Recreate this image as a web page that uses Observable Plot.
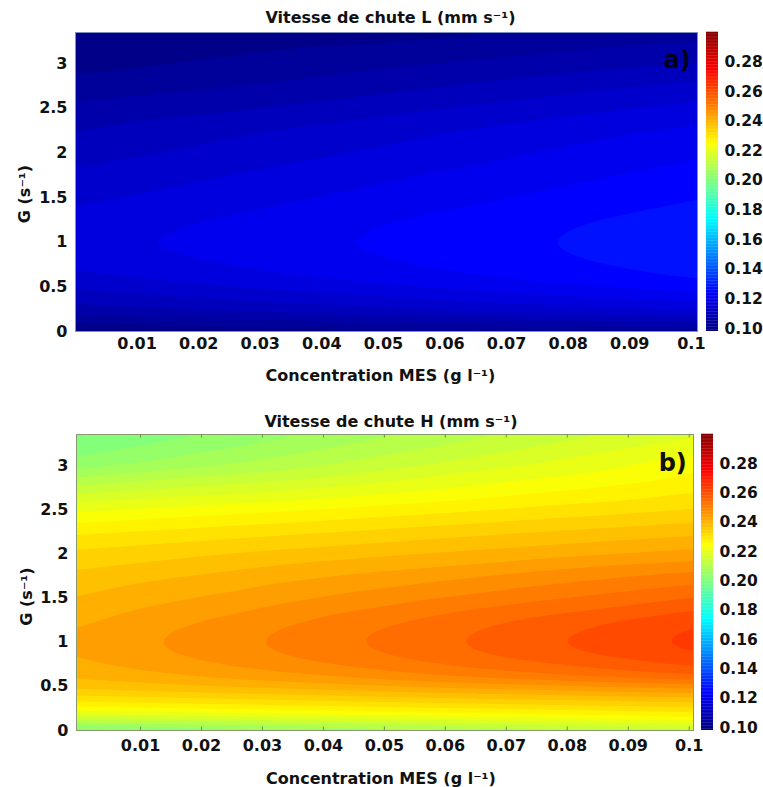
<!DOCTYPE html>
<html>
<head>
<meta charset="utf-8">
<script src="https://cdn.jsdelivr.net/npm/d3@7"></script>
<script src="https://cdn.jsdelivr.net/npm/@observablehq/plot@0.6"></script>
<style>
html,body{margin:0;padding:0;background:#fff;}
#root{position:relative;width:763px;height:787px;overflow:hidden;}
#root>svg{position:absolute;display:block;background:transparent;}
</style>
</head>
<body>
<div id="root"></div>
<script>
const concentration = [-0.001, 0.025, 0.05, 0.075, 0.101];
const shear = [3.35, 3, 2.75, 2.5, 2.25, 2, 1.75, 1.5, 1.25, 1.125, 1, 0.875, 0.75, 0.625, 0.5, 0.375, 0.25, 0.125, 0];
const speedL = [
  [.100,.101,.102,.1035,.105],
  [.102,.104,.106,.108,.1103],
  [.1045,.1065,.1088,.1115,.1143],
  [.1075,.1095,.1123,.1151,.1178],
  [.1098,.1126,.1153,.1181,.1208],
  [.1118,.1146,.1173,.1201,.1228],
  [.114,.1167,.1194,.122,.1247],
  [.1158,.1185,.1212,.1238,.1265],
  [.1178,.1204,.1231,.1257,.1283],
  [.1183,.1209,.1236,.1262,.1288],
  [.1187,.1213,.1239,.1264,.129],
  [.1183,.1209,.1236,.1262,.1288],
  [.1173,.1201,.1228,.1256,.1283],
  [.1158,.1187,.1216,.1244,.1273],
  [.1138,.1166,.1195,.1223,.1251],
  [.1113,.1138,.1163,.1188,.1213],
  [.1088,.1109,.1131,.1152,.1173],
  [.1043,.1061,.1078,.1096,.1113],
  [.100,.101,.1015,.1025,.1035]
];
const speedH = [
  [.199,.2041,.2093,.2144,.2195],
  [.205,.2101,.2153,.2204,.2255],
  [.214,.2178,.2215,.2253,.229],
  [.2225,.2253,.228,.2308,.2335],
  [.2292,.2317,.2341,.2366,.239],
  [.2342,.2368,.2394,.2419,.2445],
  [.2375,.241,.2444,.2479,.2513],
  [.2401,.2443,.2485,.2526,.2568],
  [.2425,.2475,.2525,.2574,.2624],
  [.2435,.2486,.2537,.2587,.2638],
  [.2439,.249,.2541,.2592,.2643],
  [.2436,.2486,.2535,.2585,.2634],
  [.2425,.2471,.2517,.2562,.2608],
  [.2408,.2448,.2488,.2528,.2568],
  [.238,.2406,.2433,.2459,.2485],
  [.2325,.2344,.2363,.2381,.24],
  [.226,.2276,.2293,.2309,.2325],
  [.215,.2176,.2203,.2229,.2255],
  [.198,.2018,.2055,.2093,.213]
];
const xTicks = [0.01,0.02,0.03,0.04,0.05,0.06,0.07,0.08,0.09,0.1];
const yTicks = [0,0.5,1,1.5,2,2.5,3];
const barTicks = [0.10,0.12,0.14,0.16,0.18,0.20,0.22,0.24,0.26,0.28];
const jet = ["#00007f","#0000ff","#007fff","#00ffff","#7fff7f","#ffff00","#ff7f00","#ff0000","#7f0000"];
const colorDomain = d3.range(jet.length).map(i => 0.098 + i * 0.202 / (jet.length - 1));
const levels = d3.range(-1, 61).map(k => 0.1 + k / 300);
const barSteps = d3.range(0.098, 0.3, 0.001);
const font = "'DejaVu Sans', sans-serif";

function rows(matrix) {
  const out = [];
  matrix.forEach((r, j) => r.forEach((z, i) => out.push({x: concentration[i], y: shear[j], z})));
  return out;
}
const color = {type: "linear", domain: colorDomain, range: jet, clamp: true, interpolate: "rgb"};

function panel(o) {
  const p = Plot.plot({
    width: 763, height: o.height,
    marginLeft: o.left, marginRight: o.right, marginTop: o.top, marginBottom: o.bottom,
    style: {fontFamily: font, fontWeight: "bold", fontSize: "16px", color: "#111", background: "transparent", overflow: "visible"},
    x: {domain: o.xDomain},
    y: {domain: [0, 3.35]},
    color,
    marks: [
      Plot.contour(rows(o.matrix), {x: "x", y: "y", value: "z", fill: "value", stroke: "none", interpolate: "barycentric", thresholds: levels, pixelSize: 1, blur: 4, clip: true}),
      Plot.frame({stroke: o.frame, strokeWidth: 1}),
      o.ticks ? Plot.ruleX(xTicks, {y1: 0, y2: 0.04, stroke: "#6f8f50"}) : null,
      o.ticks ? Plot.ruleX(xTicks, {y1: 3.31, y2: 3.35, stroke: "#6f8f50"}) : null,
      Plot.axisX({ticks: xTicks, tickSize: 0, tickPadding: o.xPad, tickFormat: d => String(+d.toFixed(2)), label: null}),
      Plot.axisY({ticks: yTicks, tickSize: 0, tickPadding: 8, tickFormat: d => String(d), label: null}),
      Plot.text([o.title], {frameAnchor: "top", dx: o.titleDx, dy: o.titleDy, fontSize: 16, fontWeight: "bold", fill: "#111"}),
      Plot.text(["Concentration MES (g l⁻¹)"], {frameAnchor: "bottom", dx: o.labelDx, dy: o.labelDy, fontSize: 16, fontWeight: "bold", fill: "#111"}),
      Plot.text(["G (s⁻¹)"], {frameAnchor: "left", textAnchor: "middle", rotate: -90, dx: o.yLabelDx, dy: o.yLabelDy, fontSize: 16, fontWeight: "bold", fill: "#111"}),
      Plot.text([o.tag], {x: o.tagX, y: o.tagY, fontSize: 24, fontWeight: "bold", fill: o.tagFill})
    ]
  });
  p.style.left = "0px";
  p.style.top = o.y + "px";
  return p;
}

function colorbar(o) {
  const p = Plot.plot({
    width: o.width, height: o.plotHeight + 20,
    marginLeft: 0, marginRight: o.width - 12, marginTop: 10, marginBottom: 10,
    style: {fontFamily: font, fontWeight: "bold", fontSize: "15.5px", color: "#111", background: "transparent", overflow: "visible"},
    x: {domain: [0, 1], axis: null},
    y: {domain: [0.098, 0.3]},
    color,
    marks: [
      Plot.rectY(barSteps, {x1: 0, x2: 1, y1: d => d, y2: d => d + 0.0012, fill: d => d}),
      Plot.axisY({anchor: "right", ticks: barTicks, tickSize: 0, tickPadding: 6, tickFormat: d3.format(".2f"), label: null})
    ]
  });
  p.style.left = o.x + "px";
  p.style.top = (o.y - 10) + "px";
  return p;
}

const root = document.getElementById("root");
root.append(panel({
  y: 0, height: 390, left: 75, right: 66, top: 32, bottom: 59,
  xDomain: [0, 0.101], matrix: speedL, frame: "#7f8fc0", ticks: false, xPad: 6,
  title: "Vitesse de chute L (mm s⁻¹)", titleDx: 4, titleDy: -21,
  labelDx: -6, labelDy: 49, yLabelDx: -51, yLabelDy: 12,
  tag: "a)", tagX: 0.0977, tagY: 3.04, tagFill: "#00001a"
}));
root.append(colorbar({x: 706, y: 32, width: 57, plotHeight: 299}));
root.append(panel({
  y: 400, height: 387, left: 76, right: 70, top: 34, bottom: 57,
  xDomain: [-0.0005, 0.1007], matrix: speedH, frame: "#8a9a70", ticks: true, xPad: 9,
  title: "Vitesse de chute H (mm s⁻¹)", titleDx: 6, titleDy: -19,
  labelDx: -4, labelDy: 53, yLabelDx: -50, yLabelDy: 14,
  tag: "b)", tagX: 0.0973, tagY: 3.02, tagFill: "#111"
}));
root.append(colorbar({x: 701, y: 434, width: 62, plotHeight: 296}));
</script>
</body>
</html>
